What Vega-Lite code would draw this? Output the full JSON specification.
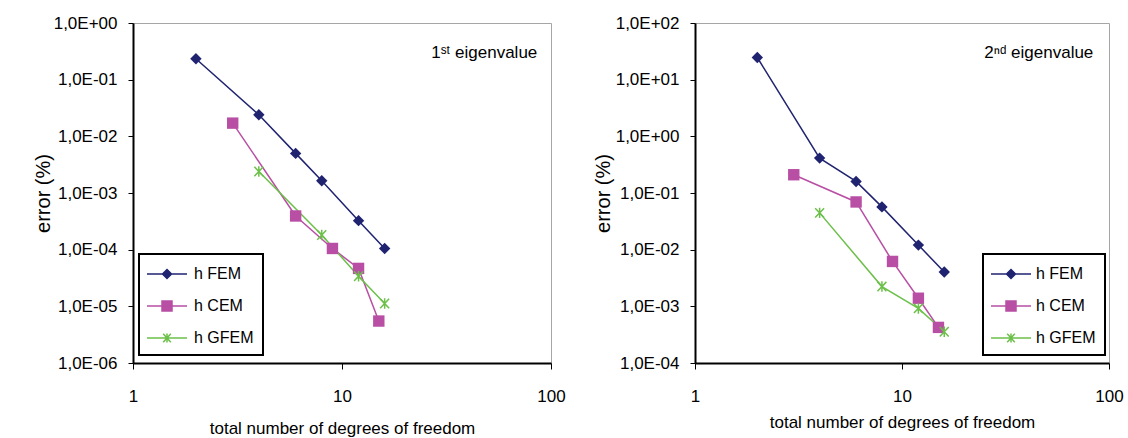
{
  "$schema": "https://vega.github.io/schema/vega-lite/v6.json",
  "padding": {"left": 32, "top": 13, "right": 0, "bottom": 0},
  "background": "white",
  "config": {
    "view": {"stroke": "#a6a6a6", "strokeWidth": 1},
    "font": "Liberation Sans",
    "axis": {
      "grid": false,
      "domainColor": "black",
      "domainWidth": 2,
      "tickColor": "black",
      "tickWidth": 1,
      "labelColor": "black",
      "titleColor": "black",
      "labelFont": "Liberation Sans",
      "titleFont": "Liberation Sans",
      "labelFontSize": 17,
      "titleFontSize": 17,
      "titleFontWeight": "normal",
      "labelFlush": false
    }
  },
  "datasets": {
    "e1": [
      {"series": "h FEM", "dof": 2, "error": 0.234},
      {"series": "h FEM", "dof": 4, "error": 0.024},
      {"series": "h FEM", "dof": 6, "error": 0.0050},
      {"series": "h FEM", "dof": 8, "error": 0.00165},
      {"series": "h FEM", "dof": 12, "error": 0.000325},
      {"series": "h FEM", "dof": 16, "error": 0.000105},
      {"series": "h CEM", "dof": 3, "error": 0.0171},
      {"series": "h CEM", "dof": 6, "error": 0.000393},
      {"series": "h CEM", "dof": 9, "error": 0.000105},
      {"series": "h CEM", "dof": 12, "error": 0.0000467},
      {"series": "h CEM", "dof": 15, "error": 0.0000055},
      {"series": "h GFEM", "dof": 4, "error": 0.00239},
      {"series": "h GFEM", "dof": 8, "error": 0.000181},
      {"series": "h GFEM", "dof": 12, "error": 0.000034},
      {"series": "h GFEM", "dof": 16, "error": 0.0000112}
    ],
    "e2": [
      {"series": "h FEM", "dof": 2, "error": 24.6},
      {"series": "h FEM", "dof": 4, "error": 0.413},
      {"series": "h FEM", "dof": 6, "error": 0.16},
      {"series": "h FEM", "dof": 8, "error": 0.0569},
      {"series": "h FEM", "dof": 12, "error": 0.01205},
      {"series": "h FEM", "dof": 16, "error": 0.00404},
      {"series": "h CEM", "dof": 3, "error": 0.21},
      {"series": "h CEM", "dof": 6, "error": 0.0695},
      {"series": "h CEM", "dof": 9, "error": 0.0062},
      {"series": "h CEM", "dof": 12, "error": 0.00139},
      {"series": "h CEM", "dof": 15, "error": 0.000425},
      {"series": "h GFEM", "dof": 4, "error": 0.0446},
      {"series": "h GFEM", "dof": 8, "error": 0.00223},
      {"series": "h GFEM", "dof": 12, "error": 0.00092},
      {"series": "h GFEM", "dof": 16, "error": 0.000356}
    ],
    "n1": [{"dof": 86, "error": 0.3, "label": "1ˢᵗ eigenvalue"}],
    "n2": [{"dof": 84, "error": 30, "label": "2ⁿᵈ eigenvalue"}]
  },
  "bounds": "flush",
  "spacing": 144,
  "resolve": {"scale": {"color": "independent", "x": "independent", "y": "independent"}, "legend": {"color": "independent"}},
  "hconcat": [
    {
      "width": 418,
      "height": 340,
      "layer": [
        {
          "data": {"name": "e1"},
          "mark": {"type": "line", "strokeWidth": 1.5},
          "encoding": {
            "x": {"field": "dof", "type": "quantitative", "scale": {"type": "log", "domain": [1, 100]},
              "axis": {"values": [1, 10, 100], "format": "d", "tickSize": 6, "labelPadding": 19, "title": "total number of degrees of freedom", "titlePadding": 16}},
            "y": {"field": "error", "type": "quantitative", "scale": {"type": "log", "domain": [0.000001, 1]},
              "axis": {"values": [0.000001, 0.00001, 0.0001, 0.001, 0.01, 0.1, 1], "labelExpr": "'1,0E' + (round(log(datum.value)/LN10) >= 0 ? '+' : '-') + format(abs(round(log(datum.value)/LN10)), '02d')", "tickSize": 5, "labelPadding": 11, "minExtent": 80, "maxExtent": 80, "title": "error (%)", "titleFontSize": 20, "titlePadding": 0}},
            "color": {"field": "series", "type": "nominal",
              "scale": {"domain": ["h FEM", "h CEM", "h GFEM"], "range": ["#1f2370", "#b84fa4", "#6cc04a"]},
              "legend": {
                "orient": "none", "legendX": 6, "legendY": 231, "title": null,
                "strokeColor": "black", "fillColor": "white", "padding": 9,
                "symbolSize": 400, "symbolStrokeWidth": 1.5, "symbolOffset": 8, "labelFontSize": 16, "labelFont": "Liberation Sans", "labelColor": "black",
                "rowPadding": 13, "labelOffset": 16,
                "encode": {
                  "symbols": {"update": {
                    "shape": {"signal": "datum.value === 'h FEM' ? 'M-2,0H2M0,-0.45L0.45,0L0,0.45L-0.45,0Z' : datum.value === 'h CEM' ? 'M-2,0H2M-0.5,-0.5H0.5V0.5H-0.5Z' : 'M-2,0H2M-0.38,-0.42L0.38,0.42M-0.38,0.42L0.38,-0.42M0,-0.45V0.45'"},
                    "fill": {"signal": "datum.value === 'h FEM' ? '#1f2370' : datum.value === 'h CEM' ? '#b84fa4' : 'transparent'"},
                    "strokeWidth": {"value": 1.5}
                  }},
                  "legend": {"update": {"strokeWidth": {"value": 2}}}
                }
              }}
          }
        },
        {
          "data": {"name": "e1"},
          "transform": [{"filter": "datum.series === 'h FEM'"}],
          "mark": {"type": "point", "shape": "diamond", "filled": true, "size": 130, "color": "#1f2370", "opacity": 1},
          "encoding": {"x": {"field": "dof", "type": "quantitative"}, "y": {"field": "error", "type": "quantitative"}}
        },
        {
          "data": {"name": "e1"},
          "transform": [{"filter": "datum.series === 'h CEM'"}],
          "mark": {"type": "point", "shape": "square", "filled": true, "size": 130, "color": "#b84fa4", "opacity": 1},
          "encoding": {"x": {"field": "dof", "type": "quantitative"}, "y": {"field": "error", "type": "quantitative"}}
        },
        {
          "data": {"name": "e1"},
          "transform": [{"filter": "datum.series === 'h GFEM'"}],
          "mark": {"type": "point", "shape": "M-0.85,-0.9L0.85,0.9M-0.85,0.9L0.85,-0.9M0,-1V1", "filled": false, "size": 110, "stroke": "#6cc04a", "strokeWidth": 1.5, "opacity": 1},
          "encoding": {"x": {"field": "dof", "type": "quantitative"}, "y": {"field": "error", "type": "quantitative"}}
        },
        {
          "data": {"name": "n1"},
          "mark": {"type": "text", "align": "right", "baseline": "middle", "fontSize": 17, "color": "black"},
          "encoding": {"x": {"field": "dof", "type": "quantitative"}, "y": {"field": "error", "type": "quantitative"}, "text": {"field": "label"}}
        }
      ]
    },
    {
      "width": 414,
      "height": 340,
      "layer": [
        {
          "data": {"name": "e2"},
          "mark": {"type": "line", "strokeWidth": 1.5},
          "encoding": {
            "x": {"field": "dof", "type": "quantitative", "scale": {"type": "log", "domain": [1, 100]},
              "axis": {"values": [1, 10, 100], "format": "d", "tickSize": 6, "labelPadding": 19, "title": "total number of degrees of freedom", "titlePadding": 10}},
            "y": {"field": "error", "type": "quantitative", "scale": {"type": "log", "domain": [0.0001, 100]},
              "axis": {"values": [0.0001, 0.001, 0.01, 0.1, 1, 10, 100], "labelExpr": "'1,0E' + (round(log(datum.value)/LN10) >= 0 ? '+' : '-') + format(abs(round(log(datum.value)/LN10)), '02d')", "tickSize": 5, "labelPadding": 11, "minExtent": 80, "maxExtent": 80, "title": "error (%)", "titleFontSize": 20, "titlePadding": 2}},
            "color": {"field": "series", "type": "nominal",
              "scale": {"domain": ["h FEM", "h CEM", "h GFEM"], "range": ["#1f2370", "#b84fa4", "#6cc04a"]},
              "legend": {
                "orient": "none", "legendX": 288, "legendY": 231, "title": null,
                "strokeColor": "black", "fillColor": "white", "padding": 9,
                "symbolSize": 400, "symbolStrokeWidth": 1.5, "symbolOffset": 8, "labelFontSize": 16, "labelFont": "Liberation Sans", "labelColor": "black",
                "rowPadding": 13, "labelOffset": 14,
                "encode": {
                  "symbols": {"update": {
                    "shape": {"signal": "datum.value === 'h FEM' ? 'M-2,0H2M0,-0.45L0.45,0L0,0.45L-0.45,0Z' : datum.value === 'h CEM' ? 'M-2,0H2M-0.5,-0.5H0.5V0.5H-0.5Z' : 'M-2,0H2M-0.38,-0.42L0.38,0.42M-0.38,0.42L0.38,-0.42M0,-0.45V0.45'"},
                    "fill": {"signal": "datum.value === 'h FEM' ? '#1f2370' : datum.value === 'h CEM' ? '#b84fa4' : 'transparent'"},
                    "strokeWidth": {"value": 1.5}
                  }},
                  "legend": {"update": {"strokeWidth": {"value": 2}}}
                }
              }}
          }
        },
        {
          "data": {"name": "e2"},
          "transform": [{"filter": "datum.series === 'h FEM'"}],
          "mark": {"type": "point", "shape": "diamond", "filled": true, "size": 130, "color": "#1f2370", "opacity": 1},
          "encoding": {"x": {"field": "dof", "type": "quantitative"}, "y": {"field": "error", "type": "quantitative"}}
        },
        {
          "data": {"name": "e2"},
          "transform": [{"filter": "datum.series === 'h CEM'"}],
          "mark": {"type": "point", "shape": "square", "filled": true, "size": 130, "color": "#b84fa4", "opacity": 1},
          "encoding": {"x": {"field": "dof", "type": "quantitative"}, "y": {"field": "error", "type": "quantitative"}}
        },
        {
          "data": {"name": "e2"},
          "transform": [{"filter": "datum.series === 'h GFEM'"}],
          "mark": {"type": "point", "shape": "M-0.85,-0.9L0.85,0.9M-0.85,0.9L0.85,-0.9M0,-1V1", "filled": false, "size": 110, "stroke": "#6cc04a", "strokeWidth": 1.5, "opacity": 1},
          "encoding": {"x": {"field": "dof", "type": "quantitative"}, "y": {"field": "error", "type": "quantitative"}}
        },
        {
          "data": {"name": "n2"},
          "mark": {"type": "text", "align": "right", "baseline": "middle", "fontSize": 17, "color": "black"},
          "encoding": {"x": {"field": "dof", "type": "quantitative"}, "y": {"field": "error", "type": "quantitative"}, "text": {"field": "label"}}
        }
      ]
    }
  ]
}
